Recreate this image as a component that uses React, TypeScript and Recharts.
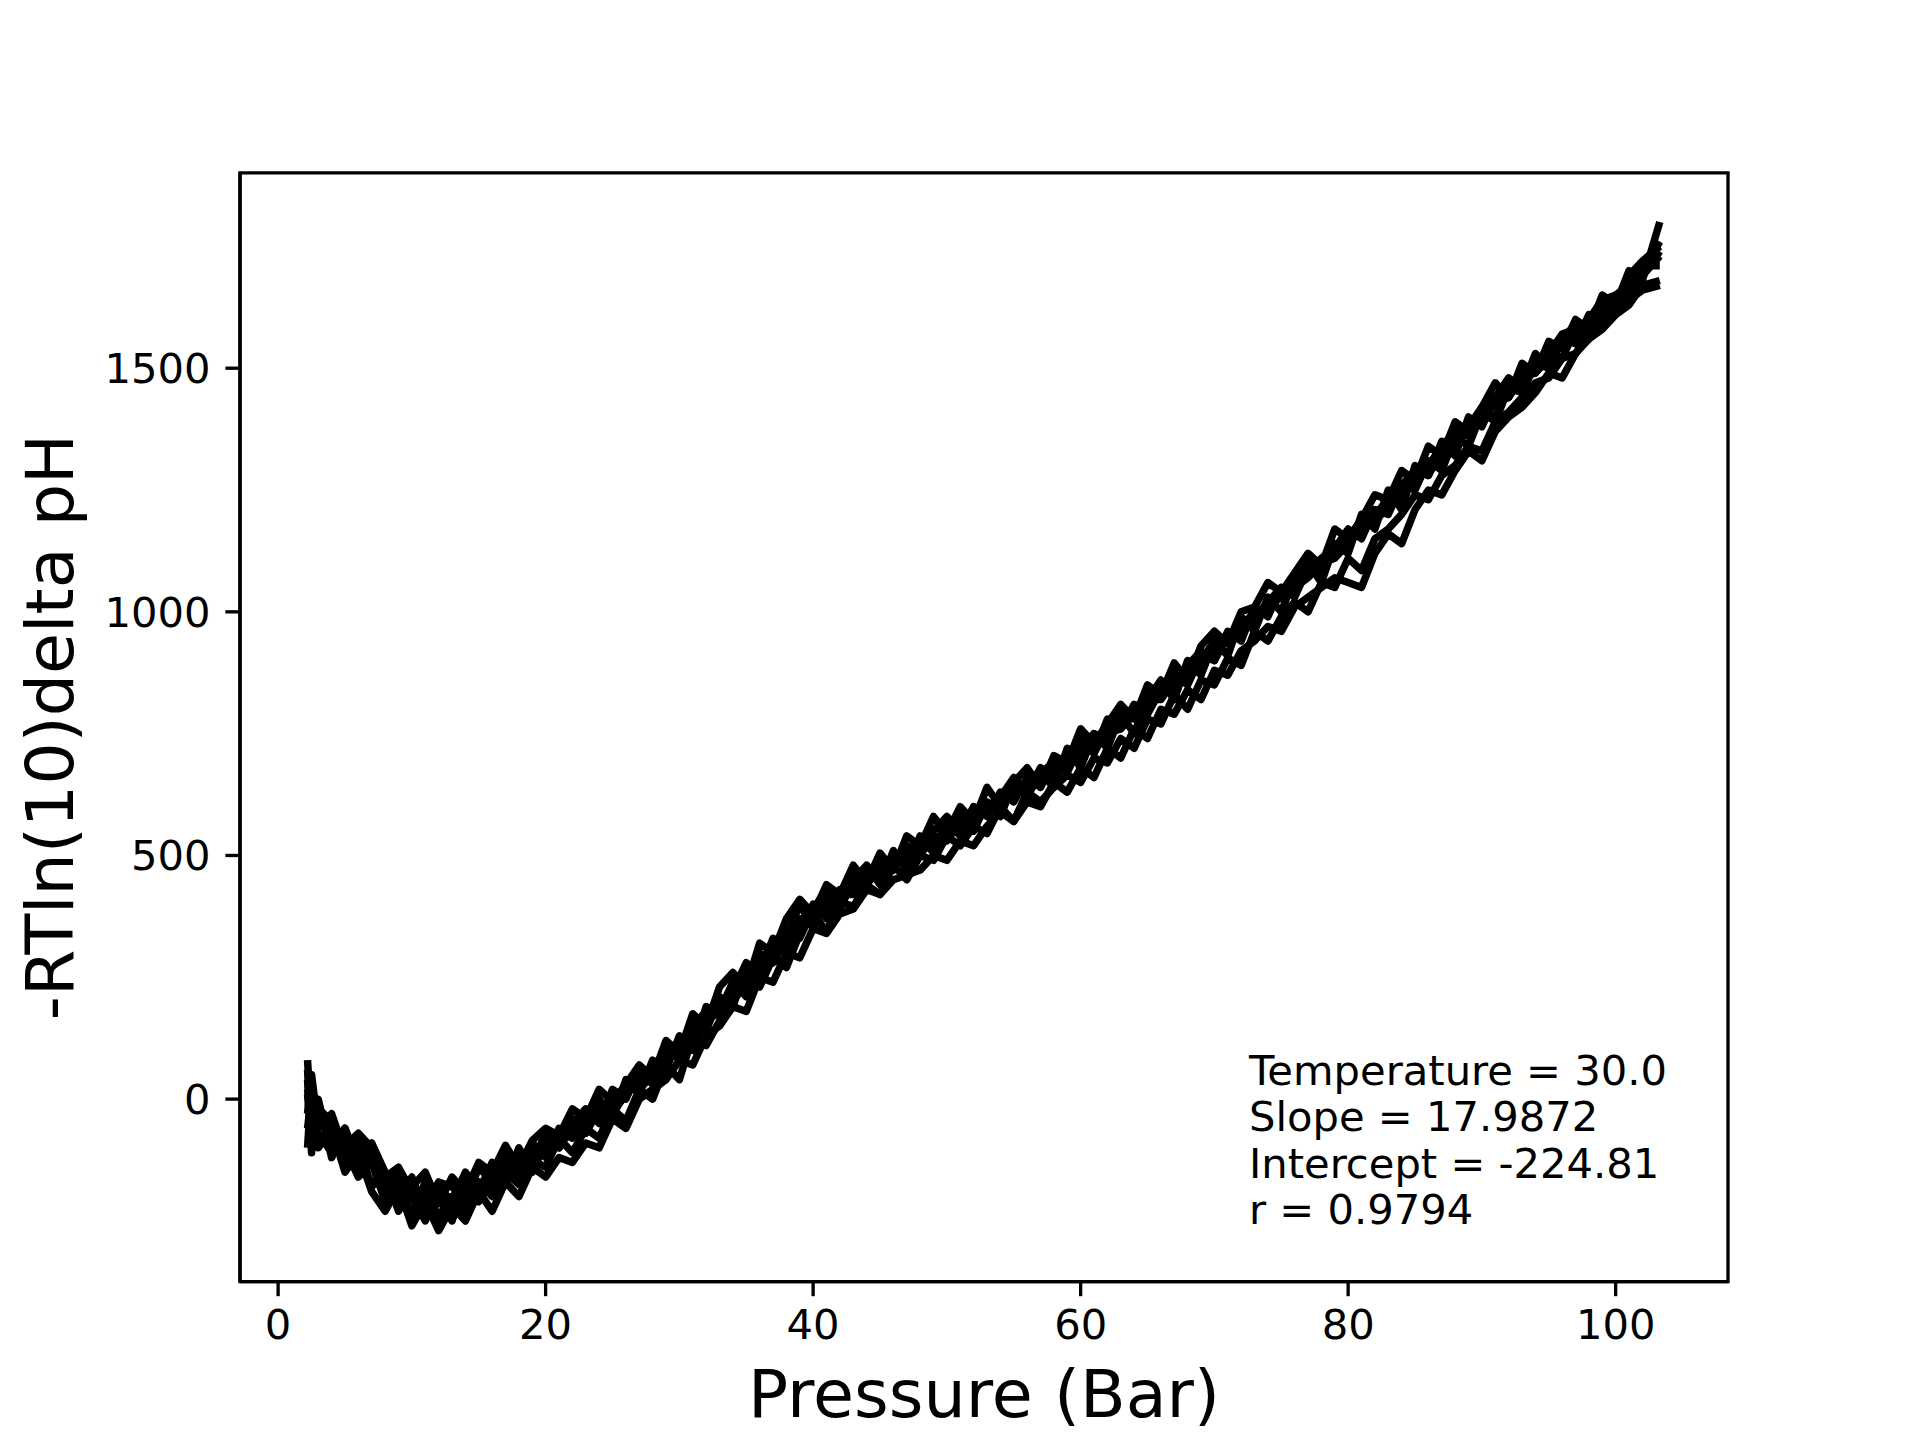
import React from 'react';
import { LineChart, Line, XAxis, YAxis, ReferenceArea, Customized } from 'recharts';

const PRESSURE = [2.2, 2.5,
  3, 4, 5, 6, 7, 8, 9, 10, 11, 12,
  13, 14, 15, 16, 17, 18, 19, 20, 21, 22,
  23, 24, 25, 26, 27, 28, 29, 30, 31, 32,
  33, 34, 35, 36, 37, 38, 39, 40, 41, 42,
  43, 44, 45, 46, 47, 48, 49, 50, 51, 52,
  53, 54, 55, 56, 57, 58, 59, 60, 61, 62,
  63, 64, 65, 66, 67, 68, 69, 70, 71, 72,
  73, 74, 75, 76, 77, 78, 79, 80, 81, 82,
  83, 84, 85, 86, 87, 88, 89, 90, 91, 92,
  93, 94, 95, 96, 97, 98, 99, 100, 101, 102, 103.3];

const RUN1 = [80, -60,
  -20, -45, -95, -70, -100, -165, -150, -180, -150, -215,
  -160, -190, -130, -150, -95, -140, -85, -60, -75, -20,
  -40, 20, -5, 30, 70, 45, 120, 95, 175, 150,
  230, 260, 230, 320, 300, 370, 410, 380, 440, 420,
  480, 445, 505, 470, 540, 520, 580, 545, 600, 570,
  640, 600, 650, 680, 640, 705, 690, 760, 730, 770,
  810, 780, 850, 830, 895, 860, 930, 960, 935, 1000,
  1010, 1060, 1040, 1080, 1120, 1095, 1170, 1150, 1190, 1240,
  1230, 1290, 1270, 1340, 1320, 1390, 1370, 1420, 1470, 1440,
  1510, 1490, 1555, 1540, 1600, 1580, 1650, 1630, 1700, 1680, 1800];

const RUN2 = [-100, 30,
  -90, -50, -130, -95, -180, -150, -230, -180, -220, -250,
  -200, -230, -170, -200, -150, -175, -125, -140, -80, -110,
  -60, -80, -20, -45, 20, 0, 70, 40, 130, 110,
  160, 200, 240, 230, 290, 270, 340, 380, 345, 405,
  395, 440, 420, 480, 450, 500, 490, 540, 520, 560,
  545, 600, 570, 630, 610, 640, 665, 650, 700, 690,
  740, 720, 780, 770, 830, 800, 860, 850, 905, 890,
  960, 940, 990, 1020, 1000, 1060, 1050, 1110, 1085, 1150,
  1170, 1200, 1240, 1230, 1280, 1300, 1340, 1330, 1390, 1410,
  1440, 1470, 1480, 1520, 1530, 1570, 1590, 1620, 1640, 1660, 1670];

const RUN3 = [40, -110,
  0, -120, -60, -140, -110, -200, -160, -240, -170, -200,
  -250, -170, -210, -140, -175, -100, -150, -90, -100, -40,
  -70, 0, -40, 40, 10, 80, 60, 130, 100, 190,
  170, 240, 210, 300, 280, 330, 400, 350, 420, 390,
  450, 480, 440, 510, 470, 540, 505, 555, 590, 550,
  610, 580, 650, 620, 670, 640, 720, 680, 750, 720,
  790, 750, 820, 860, 820, 900, 870, 940, 910, 990,
  960, 1030, 1000, 1070, 1100, 1060, 1140, 1120, 1200, 1170,
  1250, 1210, 1300, 1280, 1350, 1320, 1400, 1380, 1440, 1480,
  1460, 1530, 1500, 1560, 1590, 1560, 1640, 1610, 1690, 1720, 1750];

const RUN4 = [-60, 10,
  -100, -60, -150, -110, -190, -230, -180, -260, -210, -270,
  -220, -250, -190, -230, -170, -200, -140, -160, -120, -130,
  -90, -100, -40, -60, 0, 20, 40, 80, 70, 130,
  150, 190, 180, 250, 240, 300, 290, 350, 340, 380,
  390, 430, 420, 450, 460, 470, 500, 490, 530, 520,
  560, 590, 570, 610, 600, 650, 630, 680, 660, 720,
  700, 760, 740, 800, 790, 840, 820, 880, 870, 920,
  940, 970, 960, 1010, 1030, 1050, 1070, 1060, 1050, 1120,
  1160, 1140, 1210, 1250, 1240, 1290, 1330, 1310, 1370, 1400,
  1420, 1450, 1490, 1480, 1530, 1560, 1580, 1610, 1630, 1670, 1680];

const RUN5 = [60, -80,
  -30, -90, -60, -130, -90, -150, -200, -160, -230, -180,
  -210, -150, -190, -130, -160, -110, -130, -70, -100, -50,
  -20, -50, 20, 0, 60, 30, 100, 90, 150, 180,
  200, 220, 280, 260, 330, 310, 350, 400, 370, 430,
  430, 470, 460, 500, 490, 530, 510, 570, 540, 600,
  580, 630, 610, 660, 640, 690, 670, 730, 710, 760,
  770, 800, 790, 840, 870, 850, 910, 900, 950, 970,
  990, 1020, 1050, 1030, 1090, 1080, 1130, 1170, 1150, 1210,
  1200, 1260, 1250, 1310, 1290, 1360, 1340, 1410, 1390, 1460,
  1450, 1510, 1500, 1560, 1550, 1610, 1600, 1650, 1660, 1690, 1730];

const RUN6 = [10, -90,
  -70, -110, -100, -160, -130, -210, -170, -200, -250, -190,
  -220, -240, -170, -180, -150, -120, -140, -95, -90, -70,
  -50, -30, 0, 20, 30, 60, 90, 100, 140, 170,
  190, 220, 260, 270, 300, 340, 330, 390, 380, 410,
  430, 440, 475, 480, 510, 520, 530, 550, 580, 580,
  600, 620, 640, 640, 670, 690, 690, 720, 750, 740,
  780, 800, 810, 840, 870, 880, 900, 940, 950, 970,
  1000, 1010, 1040, 1070, 1080, 1110, 1130, 1150, 1190, 1200,
  1230, 1260, 1290, 1300, 1340, 1370, 1380, 1420, 1440, 1450,
  1490, 1510, 1530, 1570, 1580, 1600, 1640, 1650, 1670, 1710, 1710];

const RUN7 = [-30, 50,
  -60, -30, -110, -80, -130, -160, -140, -190, -220, -170,
  -180, -210, -140, -170, -120, -150, -90, -120, -60, -80,
  -30, -10, -40, 30, 20, 50, 110, 80, 160, 140,
  210, 190, 270, 250, 320, 340, 360, 390, 430, 400,
  460, 440, 490, 470, 520, 510, 550, 580, 550, 600,
  590, 620, 660, 630, 680, 660, 700, 740, 710, 780,
  760, 810, 800, 850, 840, 890, 920, 900, 960, 940,
  1010, 990, 1050, 1040, 1100, 1090, 1140, 1130, 1190, 1180,
  1240, 1230, 1290, 1280, 1330, 1370, 1360, 1410, 1400, 1460,
  1450, 1510, 1540, 1520, 1580, 1570, 1620, 1640, 1650, 1700, 1760];

const RUN8 = [20, -40,
  -80, -70, -120, -140, -170, -180, -210, -230, -190, -240,
  -200, -180, -210, -160, -140, -160, -100, -110, -90, -60,
  -70, -20, -30, 10, 40, 40, 70, 120, 110, 160,
  180, 240, 230, 280, 300, 320, 370, 370, 400, 420,
  420, 460, 450, 490, 500, 500, 540, 530, 570, 590,
  590, 600, 630, 650, 650, 680, 700, 700, 730, 750,
  760, 790, 820, 820, 860, 880, 890, 920, 940, 960,
  980, 1010, 1030, 1050, 1070, 1100, 1110, 1140, 1170, 1190,
  1210, 1250, 1270, 1300, 1310, 1350, 1370, 1390, 1430, 1440,
  1480, 1490, 1520, 1550, 1560, 1600, 1620, 1640, 1680, 1690, 1740];

const RUNS = [RUN1, RUN2, RUN3, RUN4, RUN5, RUN6, RUN7, RUN8];
const SERIES_KEYS = ['run1', 'run2', 'run3', 'run4', 'run5', 'run6', 'run7', 'run8'];

const X_TICKS = [0, 20, 40, 60, 80, 100];
const Y_TICKS = [0, 500, 1000, 1500];
const X_DOMAIN = [-2.85, 108.4];
const Y_DOMAIN = [-374.5, 1901];

const X_LABEL = 'Pressure (Bar)';
const Y_LABEL = '-RTln(10)delta pH';
const STATS = ['Temperature = 30.0', 'Slope = 17.9872', 'Intercept = -224.81', 'r = 0.9794'];

const data = PRESSURE.map((p, i) => {
  const row: Record<string, number> = { p };
  SERIES_KEYS.forEach((k, j) => {
    row[k] = RUNS[j][i];
  });
  return row;
});

const FONT = '"DejaVu Sans", sans-serif';
const TICK_FS = 41.67;
const LABEL_FS = 66.67;
const SPINE = 3.33;
const TICK_LEN = 14.6;

const Annotations = () => (
  <g fontFamily={FONT} fill="#000">
    <text x={984} y={1417} fontSize={LABEL_FS} textAnchor="middle">
      {X_LABEL}
    </text>
    <text
      x={0}
      y={0}
      fontSize={LABEL_FS}
      textAnchor="middle"
      transform="translate(73,727) rotate(-90)"
    >
      {Y_LABEL}
    </text>
    {STATS.map((s, i) => (
      <text key={s} x={1249} y={1085 + i * 46.4} fontSize={TICK_FS}>
        {s}
      </text>
    ))}
  </g>
);

export default function App() {
  return (
    <div style={{ position: 'absolute', left: 0, top: 0, width: 1920, height: 1440, background: '#fff' }}>
      <LineChart
        width={1920}
        height={1440}
        data={data}
        margin={{ top: 172.8, right: 192, bottom: 0, left: 0 }}
      >
        <XAxis
          dataKey="p"
          type="number"
          domain={X_DOMAIN}
          allowDataOverflow
          ticks={X_TICKS}
          height={158.4}
          axisLine={{ stroke: '#000', strokeWidth: SPINE }}
          tickLine={{ stroke: '#000', strokeWidth: SPINE }}
          tickSize={TICK_LEN}
          tickMargin={13}
          tick={{ fill: '#000', fontSize: TICK_FS, fontFamily: FONT }}
        />
        <YAxis
          type="number"
          domain={Y_DOMAIN}
          allowDataOverflow
          ticks={Y_TICKS}
          width={240}
          axisLine={{ stroke: '#000', strokeWidth: SPINE }}
          tickLine={{ stroke: '#000', strokeWidth: SPINE }}
          tickSize={TICK_LEN}
          tickMargin={15}
          tick={{ fill: '#000', fontSize: TICK_FS, fontFamily: FONT }}
        />
        {SERIES_KEYS.map((k) => (
          <Line
            key={k}
            dataKey={k}
            type="linear"
            stroke="#000"
            strokeWidth={7.5}
            strokeLinejoin="round"
            dot={false}
            activeDot={false}
            isAnimationActive={false}
          />
        ))}
        <ReferenceArea
          x1={X_DOMAIN[0]}
          x2={X_DOMAIN[1]}
          y1={Y_DOMAIN[0]}
          y2={Y_DOMAIN[1]}
          fill="none"
          fillOpacity={0}
          stroke="#000"
          strokeWidth={SPINE}
          ifOverflow="visible"
        />
        <Customized component={Annotations} />
      </LineChart>
    </div>
  );
}
